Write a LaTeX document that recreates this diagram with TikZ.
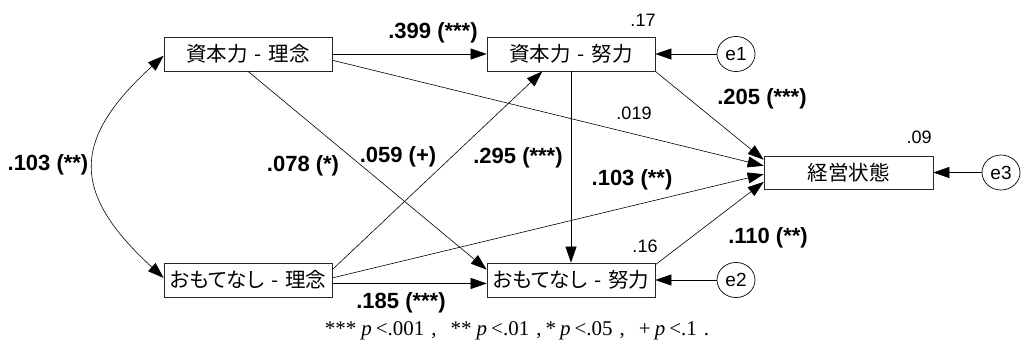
\documentclass[tikz,border=0pt]{standalone}
\usepackage{fontspec}
\setmainfont{Liberation Sans}
\newfontfamily\jp{Noto Sans CJK JP}[RawFeature=+palt]
\newfontfamily\tms{Liberation Serif}
\usetikzlibrary{arrows.meta,calc,shapes.geometric}
\newcommand\sepdash{\hspace{7pt}-\hspace{7pt}}
\begin{document}
\begin{tikzpicture}[x=1pt,y=-1pt,
  box/.style={draw=black!85, line width=0.7pt, minimum width=168pt, minimum height=34pt, inner sep=0pt, font=\jp\fontsize{20.5}{20.5}\selectfont},
  err/.style={draw, ellipse, line width=0.7pt, minimum width=38pt, minimum height=35pt, inner sep=0pt, font=\fontsize{19}{19}\selectfont},
  arr/.style={-{Triangle[length=16pt,width=11pt]}, line width=0.6pt},
  coef/.style={font=\bfseries\fontsize{22}{22}\selectfont, inner sep=0pt},
  rsq/.style={font=\fontsize{18}{18}\selectfont, inner sep=0pt}]
\useasboundingbox (0,0) rectangle (1022,348);
\fill[white] (0,0) rectangle (1022,348);

\node[box] (p1) at (248,54) {資本力\sepdash 理念};
\node[box] (p2) at (571,54) {資本力\sepdash 努力};
\node[box] (q1) at (248,280) {おもてなし\sepdash 理念};
\node[box] (q2) at (571,280) {おもてなし\sepdash 努力};
\node[box, minimum width=169pt, minimum height=33pt] (k) at (848.5,172.5) {経営状態};
\node[err] (e1) at (736,54) {e1};
\node[err] (e2) at (736,280) {e2};
\node[err] (e3) at (1001,172.5) {e3};

\draw[arr] (p1.east) -- (p2.west);
\draw[arr] (p1.south) -- ($(q2.north west)!0.2!(q2.south west)$);
\draw[arr] ($(p1.north east)!0.68!(p1.south east)$) -- ($(k.north west)!0.3!(k.south west)$);
\draw[arr] (p2.south east) -- ($(k.north west)!0.12!(k.south west)$);
\draw[arr] ($(q1.north east)!0.2!(q1.south east)$) -- ($(p2.south west)!0.33!(p2.south east)$);
\draw[arr] ($(q1.north east)!0.44!(q1.south east)$) -- ($(k.north west)!0.55!(k.south west)$);
\draw[arr] ($(q1.north east)!0.6!(q1.south east)$) -- ($(q2.north west)!0.6!(q2.south west)$);
\draw[arr] (p2.south) -- (q2.north);
\draw[arr] ($(q2.north east)!0.06!(q2.south east)$) -- ($(k.north west)!0.78!(k.south west)$);
\draw[arr] (e1.west) -- (p2.east);
\draw[arr] (e2.west) -- (q2.east);
\draw[arr] (e3.west) -- (k.east);
\draw[{Triangle[length=16pt,width=11pt]}-{Triangle[length=16pt,width=11pt]}, line width=0.6pt]
  ($(p1.north west)!0.55!(p1.south west)$) .. controls (71,140) and (71,193) .. ($(q1.north west)!0.44!(q1.south west)$);

\node[coef] (l1) at (433,33) {.399 (***)};
\node[rsq] (r1) at (643,20) {.17};
\node[coef] (l2) at (762,99) {.205 (***)};
\node[rsq] (l3) at (634,113) {.019};
\node[rsq] (r3) at (919,137) {.09};
\node[coef] (l4) at (48,165) {.103 (**)};
\node[coef] (l5) at (303,166) {.078 (*)};
\node[coef] (l6) at (398,157) {.059 (+)};
\node[coef] (l7) at (518,158) {.295 (***)};
\node[coef] (l8) at (632,180) {.103 (**)};
\node[coef] (l9) at (768,238) {.110 (**)};
\node[rsq] (r2) at (645,246) {.16};
\node[coef] (l10) at (401,303) {.185 (***)};
\node[inner sep=0pt, font=\tms\fontsize{21}{21}\selectfont] (fn) at (517,331) {***\hspace{5pt}\textit{p}\hspace{4pt}<.001\hspace{7pt},\hspace{14pt}**\hspace{5pt}\textit{p}\hspace{4pt}<.01\hspace{7pt},\hspace{4pt}*\hspace{4pt}\textit{p}\hspace{4pt}<.05\hspace{7pt},\hspace{14pt}+\hspace{4pt}\textit{p}\hspace{4pt}<.1\hspace{7pt}.};
\end{tikzpicture}
\end{document}
